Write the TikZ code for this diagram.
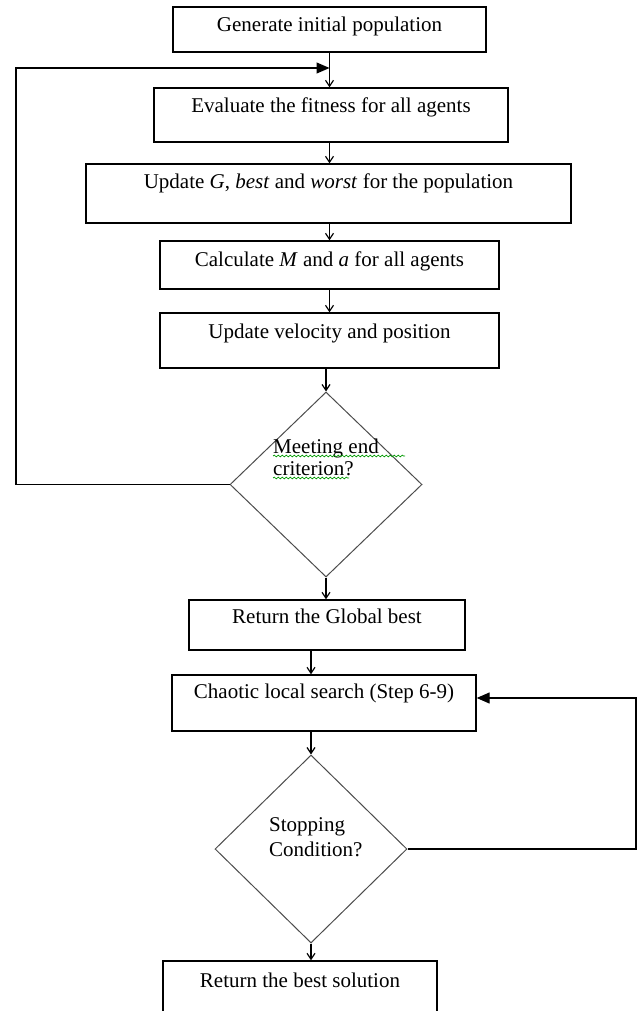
\documentclass[tikz,border=0pt]{standalone}
\usepackage{fontspec}
\setmainfont{Liberation Serif}
\usetikzlibrary{arrows.meta,shapes.geometric,decorations.pathmorphing}
\tikzset{
  box/.style={draw, rectangle, line width=1.3pt, inner sep=0pt},
  decision/.style={draw=black!70, diamond, line width=1pt, inner sep=0pt},
  txt/.style={font=\fontsize{21}{24}\selectfont, inner sep=0pt},
  flow/.style={line width=1.2pt, -{Straight Barb[length=6pt,width=8pt]}},
  back/.style={line width=1.2pt, -{Triangle[length=13pt,width=11pt]}},
  squig/.style={draw=green!60!black, line width=0.7pt, decorate, decoration={snake, amplitude=0.9pt, segment length=4pt}}
}
\begin{document}
\begin{tikzpicture}[x=1pt,y=-1pt]
\useasboundingbox (0,0) rectangle (641,1011);

\node[box, minimum width=313pt, minimum height=45pt] (gen) at (329.5,29.5) {};
\node[box, minimum width=354pt, minimum height=54pt] (eval) at (331,115) {};
\node[box, minimum width=485pt, minimum height=59pt] (upd) at (328.5,193.5) {};
\node[box, minimum width=339pt, minimum height=48pt] (calc) at (329.5,265) {};
\node[box, minimum width=339pt, minimum height=55pt] (vel) at (329.5,340.5) {};
\node[decision, minimum width=192pt, minimum height=185pt] (meet) at (326,484.5) {};
\node[box, minimum width=276pt, minimum height=50pt] (ret) at (327,625) {};
\node[box, minimum width=304pt, minimum height=56pt] (chaos) at (324,703) {};
\node[decision, minimum width=192pt, minimum height=188pt] (stop) at (311,849) {};
\node[box, minimum width=274pt, minimum height=54pt] (best) at (300,988) {};

\node[txt, anchor=base] (gentxt) at (329.5,32) {Generate initial population};
\node[txt, anchor=base] (evaltxt) at (331,113) {Evaluate the fitness for all agents};
\node[txt, anchor=base] (updtxt) at (328.5,189) {Update \textit{G}, \textit{best} and \textit{worst} for the population};
\node[txt, anchor=base] (calctxt) at (329.5,266) {Calculate \textit{M} and \textit{a} for all agents};
\node[txt, anchor=base] (veltxt) at (329.5,338) {Update velocity and position};
\node[txt, anchor=base west] (meet1) at (273,453) {Meeting end};
\node[txt, anchor=base west] (meet2) at (273,475) {criterion?};
\node[txt, anchor=base] (rettxt) at (327,623) {Return the Global best};
\node[txt, anchor=base] (chaostxt) at (324,698) {Chaotic local search (Step 6-9)};
\node[txt, anchor=base west] (stop1) at (269,831) {Stopping};
\node[txt, anchor=base west] (stop2) at (269,856) {Condition?};
\node[txt, anchor=base] (besttxt) at (300,987) {Return the best solution};

\draw[squig] ([yshift=-3pt]meet1.base west) -- ++(132,0);
\draw[squig] ([yshift=-3pt]meet2.base west) -- ++(76,0);

\draw[flow] (gen.south) -- (gen.south |- eval.north);
\draw[flow] (gen.south |- eval.south) -- (gen.south |- upd.north);
\draw[flow] (gen.south |- upd.south) -- (gen.south |- calc.north);
\draw[flow] (gen.south |- calc.south) -- (gen.south |- vel.north);
\draw[flow] (meet.north |- vel.south) -- (meet.north);
\draw[flow] (meet.south) -- (meet.south |- ret.north);
\draw[flow] (stop.north |- ret.south) -- (stop.north |- chaos.north);
\draw[flow] (stop.north |- chaos.south) -- (stop.north);
\draw[flow] (stop.south) -- (stop.south |- best.north);

\coordinate (backl) at (16,68);
\coordinate (backr) at (636,698);
\draw[back] (meet.west) -| (backl) -- (backl -| gen.south);
\draw[back] (stop.east) -| (backr) -- (backr -| chaos.east);
\end{tikzpicture}
\end{document}
